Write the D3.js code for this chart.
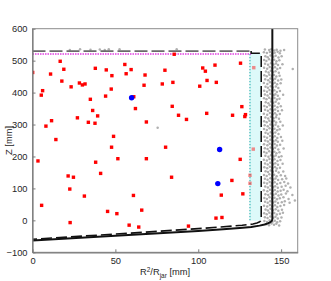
<!DOCTYPE html>
<html>
<head>
<meta charset="utf-8">
<script src="https://cdn.jsdelivr.net/npm/d3@7"></script>
<style>
  body { margin: 0; background: #fff; }
  svg { display: block; font-family: "Liberation Sans", Arial, sans-serif; }
</style>
</head>
<body>
<svg id="chart"></svg>
<script>
// event positions (R^2/R_jar, Z) in mm
const redPts = [
  [0.1,463],[16.7,498],[18.9,473],[10.9,458],[17.7,436],[6.1,406],[5.3,392],[23.3,418],
  [28.3,430],[30.1,424],[31.7,427],[37.9,476],[34.9,379],[44.5,471],[47.9,453],[47.5,411],
  [44.1,389],[55.7,488],[56.5,459],[59.5,472],[61.1,387],[62.1,350],[67.9,455],[67.3,423],
  [79.9,470],[78.3,427],[84.7,432],[85.5,520],[84.3,357],[88.1,329],[92.9,316],[100.9,420],
  [102.7,477],[104.3,467],[105.3,438],[110.1,486],[110.9,432],[105.1,335],[125.5,492],[120.7,329],
  [126.3,356],[128.5,331],[128.1,325],[36.3,344],[39.3,327],[27.1,321],[33.7,307],[37.7,304],
  [11.5,312],[8.1,295],[14.1,253],[48.9,263],[47.7,229],[51.5,193],[68.7,193],[80.3,229],
  [68.7,308],[3.3,186],[38.1,182],[41.1,147],[21.5,139],[24.7,135],[22.5,98],[31.3,76],
  [5.5,47],[60.9,78],[83.9,135],[113.9,79],[120.3,125],[125.3,191],[126.9,83],[45.3,28],
  [50.9,21],[65.9,32],[22.7,-7],[58.3,-15],[64.1,-21],[94.1,-18],[110.7,7],[114.3,9]
];
const pinkPts = [[133.5,478],[133.2,223],[131.2,141],[131.2,116]];
const bluePts = [[59.8,384],[112.9,222],[111.8,115]];

const greyPts = [
  [140.2,535],[142.8,533],[144.1,536],[145.9,532],[147.3,534],[149.6,531],[151.8,533],
  [139.6,526],[141.4,524],[143.2,527],[144.8,522],[146.1,525],[147.9,528],[149.2,523],
  [140.5,514],[141.9,511],[143.6,516],[145.3,512],[146.7,515],[148.4,510],[150.3,514],
  [139.8,502],[141.1,499],[142.7,504],[144.3,500],[145.8,503],[147.2,498],[148.9,501],
  [140.3,490],[142.1,487],[143.9,492],[145.4,488],[146.9,491],[148.1,486],[150.8,489],
  [139.7,478],[141.6,475],[143.1,480],[144.6,476],[146.3,479],[147.7,474],[149.4,477],
  [140.8,466],[142.4,463],[143.8,468],[145.1,464],[146.6,467],[148.6,462],
  [139.9,454],[141.3,451],[142.9,456],[144.4,452],[145.7,455],[147.1,450],[149.1,453],
  [140.4,442],[142.2,439],[143.5,444],[145.2,440],[146.4,443],[148.2,438],[150.1,441],
  [139.6,430],[141.7,427],[143.3,432],[144.9,428],[146.2,431],[147.6,426],[149.7,429],
  [140.6,418],[142.0,415],[143.7,420],[145.0,416],[146.8,419],[148.3,414],
  [139.8,406],[141.5,403],[143.0,408],[144.5,404],[145.9,407],[147.4,402],[149.3,405],
  [140.2,394],[141.8,391],[143.4,396],[145.6,392],[146.5,395],[148.0,390],[151.2,393],
  [139.7,382],[141.2,379],[142.8,384],[144.2,380],[146.0,383],[147.5,378],[149.0,381],
  [140.7,370],[142.3,367],[143.9,372],[145.3,368],[146.7,371],[148.5,366],
  [139.9,358],[141.4,355],[143.1,360],[144.7,356],[146.1,359],[147.8,354],[149.8,357],
  [140.3,346],[142.0,343],[143.6,348],[145.1,344],[146.4,347],[148.1,342],[150.5,345],
  [139.6,334],[141.6,331],[143.2,336],[144.8,332],[146.3,335],[147.3,330],[149.2,333],
  [140.5,322],[142.2,319],[143.8,324],[145.4,320],[146.9,323],[148.7,318],
  [139.8,310],[141.3,307],[142.9,312],[144.3,308],[145.8,311],[147.0,306],[149.5,309],
  [140.1,298],[141.9,295],[143.5,300],[145.2,296],[146.6,299],[148.2,294],[151.0,297],
  [139.7,286],[141.4,283],[143.0,288],[144.6,284],[146.0,287],[147.6,282],[149.1,285],
  [140.6,274],[142.1,271],[143.7,276],[145.0,272],[146.5,275],[148.4,270],
  [139.9,262],[141.5,259],[143.3,264],[144.9,260],[146.2,263],[147.7,258],[149.9,261],
  [140.4,250],[142.0,247],[143.5,252],[145.3,248],[146.8,251],[148.0,246],[150.7,249],
  [139.7,238],[141.7,235],[143.1,240],[144.5,236],[146.1,239],[147.5,234],[149.4,237],
  [140.2,226],[141.8,223],[143.6,228],[145.1,224],[146.4,227],[148.3,222],[151.5,225],
  [139.8,214],[141.2,211],[142.8,216],[144.4,212],[145.9,215],[147.2,210],[149.0,213],
  [140.5,202],[142.3,199],[143.9,204],[145.5,200],[146.7,203],[148.6,198],[150.2,201],
  [139.6,190],[141.4,187],[143.0,192],[144.7,188],[146.0,191],[147.8,186],[149.6,189],
  [140.3,178],[141.9,175],[143.4,180],[145.2,176],[146.5,179],[148.1,174],[150.9,177],
  [139.9,166],[141.6,163],[143.2,168],[144.8,164],[146.3,167],[147.4,162],[149.3,165],
  [140.6,154],[142.1,151],[143.7,156],[145.0,152],[146.9,155],[148.5,150],[151.3,153],
  [139.7,142],[141.3,139],[142.9,144],[144.6,140],[145.8,143],[147.3,138],[149.8,141],[152.4,139],
  [140.2,130],[141.8,127],[143.5,132],[145.3,128],[146.6,131],[148.2,126],[150.6,129],[153.1,131],
  [139.8,118],[141.5,115],[143.1,120],[144.5,116],[146.1,119],[147.6,114],[149.5,117],[151.9,120],[154.2,115],
  [140.4,106],[142.0,103],[143.6,108],[145.1,104],[146.4,107],[148.0,102],[150.3,105],[152.7,108],[155.6,103],
  [139.6,94],[141.7,91],[143.3,96],[144.9,92],[146.2,95],[147.9,90],[149.7,93],[151.5,96],[153.8,91],
  [140.5,82],[142.2,79],[143.8,84],[145.4,80],[146.8,83],[148.4,78],[150.1,81],[152.9,84],[156.8,79],
  [139.9,70],[141.4,67],[143.0,72],[144.6,68],[146.0,71],[147.5,66],[149.2,69],[151.4,72],[154.5,67],[158.3,62],
  [140.3,58],[141.9,55],[143.4,60],[145.2,56],[146.5,59],[148.1,54],[150.4,57],[152.2,60],[155.1,55],
  [139.7,46],[141.6,43],[143.2,48],[144.7,44],[146.3,47],[147.7,42],[149.6,45],[151.8,48],
  [140.6,34],[142.0,31],[143.6,36],[145.0,32],[146.7,35],[148.3,30],[150.5,33],
  [139.8,22],[141.3,19],[142.9,24],[144.4,20],[145.9,23],[147.4,18],[149.3,21],[151.1,24],
  [140.2,10],[141.8,7],[143.5,12],[145.3,8],[146.6,11],[148.0,6],[150.2,9],
  [139.9,-2],[141.5,-5],[143.1,0],[144.8,-4],[146.2,-1],[147.6,-6],[149.4,-3],
  [141.0,-12],[142.7,-15],[144.2,-10],[145.7,-14],[147.1,-11],[148.8,-16],
  [157.0,474],[75.5,290],[22.5,533],[28.7,536],[35.0,534],[40.6,535],[43.6,533],[46.0,536],[52.5,536],[87.0,536]
];

// jar wall (solid) and fiducial boundary (dashed)
const jarWall = [[0,-63],[50,-48],[100,-33],[115,-28],[125,-24],[132,-20.5],[137,-16.5],[140,-13],
  [142,-9.5],[143.4,-6],[144.2,-2.5],[144.6,1],[144.7,5],[144.7,600]];
const fidTop = [[0,530],[131.9,530]];
const fidSide = [[131.9,530],[131.9,523],[138,523],[138,2],[137.6,-2],[136.8,-5.5],[135.4,-8.5],
  [133,-11.5],[130,-13.5],[126.5,-15.5],[100,-26],[50,-43],[0,-59]];
const cutLine = [[0,521],[131.9,521]];
const shellEdge = [[131.2,0],[131.2,521]];
const shellArea = [[131.2,523],[138,523],[138,2],[134.5,-2],[131.2,0]];

const xTicks = [0, 50, 100, 150];
const yTicks = [-100, 0, 100, 200, 300, 400, 500, 600];

const W = 331, H = 281;
const margin = { top: 28.7, right: 33.3, bottom: 28.7, left: 32.5 };
const width = W - margin.left - margin.right;
const height = H - margin.top - margin.bottom;

const svg = d3.select("#chart").attr("width", W).attr("height", H);
const g = svg.append("g").attr("transform", `translate(${margin.left},${margin.top})`);

const x = d3.scaleLinear().domain([0, 160]).range([0, width]);
const y = d3.scaleLinear().domain([-100, 600]).range([height, 0]);

g.append("defs").append("clipPath").attr("id", "clip")
  .append("rect").attr("width", width).attr("height", height);

const plot = g.append("g").attr("clip-path", "url(#clip)");

const line = d3.line().x(d => x(d[0])).y(d => y(d[1]));

plot.append("path").datum(shellArea)
  .attr("d", line).attr("fill", "#ddf9f9").attr("stroke", "none");

plot.append("g").selectAll("circle").data(greyPts).enter().append("circle")
  .attr("cx", d => x(d[0])).attr("cy", d => y(d[1])).attr("r", 1.25)
  .attr("fill", "#b0b0b0");

plot.append("path").datum(shellEdge).attr("d", line)
  .attr("fill", "none").attr("stroke", "#10a8a8").attr("stroke-width", 1)
  .attr("stroke-dasharray", "1.5,1.5");

plot.append("path").datum(cutLine).attr("d", line)
  .attr("fill", "none").attr("stroke", "#e040e0").attr("stroke-width", 1.4)
  .attr("stroke-dasharray", "1.5,1");

plot.append("path").datum(jarWall).attr("d", line)
  .attr("fill", "none").attr("stroke", "#111").attr("stroke-width", 2)
  .attr("stroke-linejoin", "round");

plot.append("path").datum(fidTop).attr("d", line)
  .attr("fill", "none").attr("stroke", "#6a6a6a").attr("stroke-width", 1.7)
  .attr("stroke-dasharray", "13,4");

plot.append("path").datum(fidSide).attr("d", line)
  .attr("fill", "none").attr("stroke", "#111").attr("stroke-width", 1.6)
  .attr("stroke-linejoin", "round")
  .attr("stroke-dasharray", "11,4");

plot.append("g").selectAll("rect").data(redPts).enter().append("rect")
  .attr("x", d => x(d[0]) - 1.7).attr("y", d => y(d[1]) - 1.7)
  .attr("width", 3.4).attr("height", 3.4).attr("fill", "#ff0000");

plot.append("g").selectAll("rect").data(pinkPts).enter().append("rect")
  .attr("x", d => x(d[0]) - 1.7).attr("y", d => y(d[1]) - 1.7)
  .attr("width", 3.4).attr("height", 3.4).attr("fill", "#ff0000").attr("fill-opacity", 0.45);

plot.append("g").selectAll("circle").data(bluePts).enter().append("circle")
  .attr("cx", d => x(d[0])).attr("cy", d => y(d[1])).attr("r", 2.7)
  .attr("fill", "#0000ff");

// axes box
g.append("rect").attr("width", width).attr("height", height)
  .attr("fill", "none").attr("stroke", "#8c8c8c").attr("stroke-width", 1);

const xAxis = d3.axisBottom(x).tickValues(xTicks).tickSizeInner(-3).tickSizeOuter(0).tickPadding(5);
const yAxis = d3.axisLeft(y).tickValues(yTicks).tickSizeInner(-3).tickSizeOuter(0).tickPadding(5);

const xg = g.append("g").attr("transform", `translate(0,${height})`).call(xAxis);
const yg = g.append("g").call(yAxis);
[xg, yg].forEach(a => {
  a.select(".domain").attr("stroke", "#7a7a7a").attr("stroke-width", 1.2);
  a.selectAll(".tick line").attr("stroke", "#7a7a7a");
  a.selectAll("text").attr("fill", "#262626").style("font-size", "9.3px")
    .style("font-family", "'Liberation Sans', Arial, sans-serif");
});
yg.selectAll(".tick text").text(d => d < 0 ? "\u2212" + Math.abs(d) : d);

// axis labels
const xl = svg.append("text")
  .attr("x", margin.left + width / 2).attr("y", 275)
  .attr("text-anchor", "middle").attr("fill", "#262626").style("font-size", "9.3px");
xl.append("tspan").text("R");
xl.append("tspan").attr("dy", -3.5).style("font-size", "6.5px").text("2");
xl.append("tspan").attr("dy", 3.5).text("/R");
xl.append("tspan").attr("dy", 2.5).style("font-size", "6.5px").text("jar");
xl.append("tspan").attr("dy", -2.5).text(" [mm]");

svg.append("text")
  .attr("transform", `translate(12,${margin.top + height / 2}) rotate(-90)`)
  .attr("text-anchor", "middle").attr("fill", "#262626").style("font-size", "9.3px")
  .text("Z [mm]");
</script>
</body>
</html>
